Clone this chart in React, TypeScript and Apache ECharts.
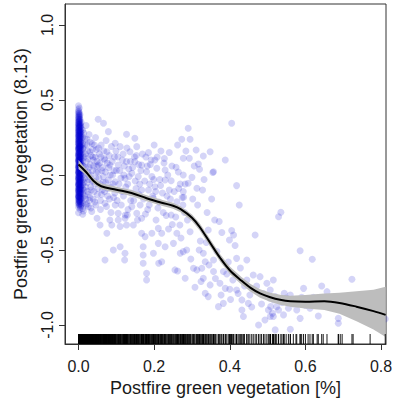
import { useEffect, useRef } from "react";
import * as echarts from "echarts";

const xTickValues = [0, 0.2, 0.4, 0.6, 0.8];
const yTickValues = [-1, -0.5, 0, 0.5, 1];
const xRange = [-0.0357, 0.813];
const yRange = [-1.127, 1.14];

const xTitle = "Postfire green vegetation [%]";
const yTitle = "Postfire green vegetation (8.13)";

// dense cluster at ~0 % green vegetation: column x positions and y values
const coreX = [0, 0.002, 0.004, 0.007, 0.011, 0.001, 0.003, 0.005, 0.0, 0.0005, 0.0025, 0.006, 0.0015];
const coreY0 = [0.462, 0.436, 0.418, 0.392, 0.371, 0.352, 0.327, 0.309, 0.284, 0.268, 0.241, 0.226, 0.203, 0.181, 0.166, 0.142, 0.127, 0.101, 0.088, 0.061, 0.047, 0.022, 0.008, -0.018, -0.033, -0.058, -0.072, -0.097, -0.113, -0.138, -0.152, -0.183, -0.214, -0.252];
const coreY1 = [0.447, 0.413, 0.394, 0.362, 0.338, 0.317, 0.283, 0.262, 0.236, 0.203, 0.182, 0.153, 0.122, 0.098, 0.073, 0.042, 0.018, -0.006, -0.041, -0.062, -0.087, -0.118, -0.142, -0.171, -0.203];
const coreY2 = [0.402, 0.372, 0.334, 0.302, 0.273, 0.243, 0.212, 0.188, 0.162, 0.133, 0.108, 0.082, 0.053, 0.028, 0.002, -0.027, -0.051, -0.082, -0.104, -0.132, -0.163, -0.191, -0.228];
const coreY3 = [0.352, 0.309, 0.272, 0.238, 0.202, 0.168, 0.141, 0.108, 0.072, 0.043, 0.013, -0.022, -0.047, -0.073, -0.102, -0.127, -0.162, -0.198];
const coreY4 = [0.298, 0.252, 0.208, 0.174, 0.132, 0.093, 0.062, 0.033, -0.002, -0.031, -0.064, -0.092, -0.121, -0.152, -0.187, -0.223, -0.262];
const coreY5 = [0.425, 0.401, 0.377, 0.355, 0.331, 0.314, 0.291, 0.272, 0.249, 0.231, 0.209, 0.192, 0.171, 0.148, 0.133, 0.112, 0.093, 0.071, 0.053, 0.031, 0.012, -0.011, -0.029, -0.049, -0.068, -0.091, -0.108, -0.127, -0.148, -0.171, -0.196];
const coreY6 = [0.387, 0.358, 0.326, 0.297, 0.279, 0.252, 0.228, 0.197, 0.176, 0.151, 0.119, 0.091, 0.067, 0.039, 0.012, -0.013, -0.038, -0.066, -0.093, -0.116, -0.147, -0.178];
const coreY7 = [0.342, 0.318, 0.287, 0.258, 0.221, 0.196, 0.171, 0.139, 0.117, 0.087, 0.058, 0.037, 0.008, -0.016, -0.041, -0.069, -0.094, -0.121, -0.154, -0.186, -0.216];
const coreY8 = [0.341, 0.296, 0.256, 0.214, 0.173, 0.132, 0.094, 0.052, 0.016, -0.024, -0.063, -0.104, -0.143];
const coreY9 = [0.408, 0.384, 0.362, 0.338, 0.319, 0.297, 0.276, 0.255, 0.233, 0.214, 0.193, 0.177, 0.156, 0.137, 0.118, 0.098, 0.079, 0.057, 0.039, 0.018, -0.004, -0.022, -0.044, -0.063, -0.084, -0.103, -0.124, -0.143, -0.166, -0.189];
const coreY10 = [0.371, 0.346, 0.321, 0.293, 0.266, 0.244, 0.218, 0.193, 0.168, 0.144, 0.121, 0.096, 0.072, 0.048, 0.024, -0.001, -0.026, -0.052, -0.077, -0.101, -0.124, -0.151, -0.177];
const coreY11 = [0.326, 0.289, 0.256, 0.223, 0.187, 0.156, 0.124, 0.096, 0.064, 0.031, 0.004, -0.029, -0.058, -0.086, -0.113, -0.145, -0.177, -0.207];
const coreY12 = [0.306, 0.263, 0.221, 0.183, 0.146, 0.103, 0.066, 0.027, -0.012, -0.053, -0.09, -0.131, -0.162];

const nearCorePoints = [
  [0.014, 0.28], [0.016, 0.2], [0.015, 0.12], [0.018, 0.05], [0.017, -0.02], [0.015, -0.1], [0.019, -0.16], [0.013, -0.24],
  [0.02, 0.33], [0.022, 0.24], [0.024, 0.16], [0.021, 0.09], [0.025, 0.02], [0.023, -0.05], [0.026, -0.13], [0.022, -0.19],
  [0.026, -0.211], [0.028, 0.27], [0.03, 0.155], [0.031, 0.07], [0.029, -0.01], [0.032, -0.08], [0.03, -0.15], [0.033, -0.22],
  [0.035, -0.244], [0.036, 0.21], [0.038, 0.12], [0.039, 0.1], [0.037, 0.03], [0.04, -0.04], [0.041, -0.11], [0.043, -0.18],
  [0.045, 0.25], [0.047, 0.17], [0.048, 0.06], [0.046, -0.02], [0.049, -0.289], [0.05, -0.13], [0.052, 0.371], [0.052, 0.067],
  [0.052, 0.022], [0.055, 0.14], [0.057, -0.06], [0.057, -0.333], [0.058, -0.17], [0.06, 0.2], [0.062, 0.03], [0.063, -0.1],
  [0.066, 0.345], [0.066, -0.011], [0.068, 0.11], [0.07, 0.1], [0.07, -0.189], [0.07, -0.567], [0.072, -0.05], [0.075, 0.155],
  [0.075, -0.389], [0.077, -0.14], [0.079, 0.289], [0.079, -0.033], [0.08, 0.05], [0.083, 0.067], [0.083, -0.3], [0.085, -0.08],
  [0.087, 0.19], [0.088, -0.333], [0.09, 0.0], [0.092, -0.5], [0.093, -0.15], [0.095, 0.12], [0.097, 0.211], [0.097, -0.045],
  [0.097, -0.2], [0.1, 0.03],
];
const nearCoreExtra = [
  [0.012, 0.18], [0.013, 0.06], [0.014, -0.05], [0.016, -0.14], [0.017, 0.24], [0.018, 0.14], [0.019, -0.08], [0.02, -0.2],
  [0.021, 0.01], [0.023, 0.2], [0.024, -0.11], [0.025, 0.11], [0.027, -0.03], [0.028, 0.05], [0.029, -0.17], [0.031, 0.22],
  [0.032, 0.0], [0.033, 0.13], [0.034, -0.1], [0.036, -0.04], [0.037, 0.17], [0.039, -0.16], [0.04, 0.06], [0.042, 0.2],
  [0.043, -0.06], [0.044, 0.12], [0.046, -0.2], [0.047, 0.02], [0.049, 0.09], [0.051, -0.09], [0.053, 0.18], [0.054, -0.02],
  [0.056, 0.08], [0.058, -0.23], [0.059, 0.12], [0.061, -0.13], [0.064, 0.05], [0.065, -0.05], [0.067, 0.16], [0.069, -0.11],
  [0.071, 0.02], [0.073, 0.23], [0.074, -0.21], [0.076, 0.08], [0.078, -0.09], [0.081, 0.13], [0.082, -0.16], [0.084, 0.0],
  [0.086, -0.25], [0.089, 0.09], [0.091, -0.06], [0.094, 0.03], [0.096, -0.12], [0.099, 0.16],
];

const midPoints = [
  [0.105, 0.067], [0.105, -0.3], [0.105, -0.256], [0.11, 0.189], [0.11, -0.344], [0.11, -0.478], [0.112, -0.02], [0.115, -0.11],
  [0.118, 0.14], [0.12, 0.0], [0.123, -0.022], [0.123, -0.289], [0.123, -0.522], [0.124, -0.267], [0.122, -0.567], [0.127, 0.271],
  [0.127, 0.089], [0.127, -0.333], [0.129, -0.267], [0.13, -0.06], [0.133, 0.04], [0.136, 0.155], [0.138, -0.17], [0.141, 0.011],
  [0.141, -0.211], [0.145, -0.333], [0.148, 0.12], [0.149, 0.245], [0.149, 0.089], [0.152, -0.09], [0.154, 0.189], [0.154, -0.256],
  [0.158, -0.011], [0.16, -0.13], [0.163, -0.2], [0.165, 0.03], [0.167, 0.067], [0.167, -0.1], [0.167, -0.289], [0.167, -0.389],
  [0.171, -0.478], [0.171, -0.533], [0.171, -0.589], [0.175, -0.04], [0.176, -0.411], [0.178, 0.12], [0.18, 0.022], [0.18, -0.656],
  [0.18, -0.7], [0.183, -0.23], [0.185, 0.149], [0.185, -0.1], [0.188, -0.06], [0.19, 0.07], [0.194, -0.011], [0.194, -0.389],
  [0.196, -0.14], [0.198, -0.156], [0.198, -0.522], [0.2, 0.2], [0.202, 0.1], [0.202, -0.078], [0.205, -0.3], [0.207, 0.045],
  [0.21, -0.22], [0.211, -0.356], [0.211, -0.456], [0.212, -0.589], [0.215, -0.03], [0.218, 0.16], [0.22, -0.389], [0.22, -0.578],
  [0.222, -0.12], [0.226, 0.08], [0.229, 0.033], [0.229, -0.033], [0.229, -0.478], [0.232, -0.27], [0.236, 0.0], [0.24, 0.15],
  [0.24, -0.1], [0.243, -0.16], [0.245, -0.038], [0.245, -0.267], [0.248, -0.33], [0.251, -0.456],
];
const midExtra = [
  [0.102, -0.17], [0.104, 0.12], [0.107, -0.06], [0.109, 0.03], [0.113, -0.2], [0.116, 0.1], [0.119, -0.14], [0.121, 0.06],
  [0.125, -0.08], [0.128, 0.18], [0.131, -0.23], [0.134, -0.01], [0.137, 0.09], [0.139, -0.12], [0.143, 0.05], [0.146, -0.17],
  [0.15, -0.04], [0.153, 0.13], [0.156, -0.3], [0.159, 0.07], [0.162, -0.06], [0.169, 0.14], [0.172, -0.16], [0.177, -0.26],
  [0.182, 0.06], [0.187, -0.2], [0.192, 0.1], [0.199, -0.03], [0.204, -0.11], [0.208, 0.12], [0.213, -0.18], [0.217, -0.07],
  [0.224, -0.25], [0.227, 0.11], [0.234, -0.14], [0.238, -0.36], [0.247, 0.06],
];

const outerPoints = [
  [0.255, -0.633], [0.258, 0.051], [0.26, -0.178], [0.26, -0.389], [0.262, -0.64], [0.262, 0.2], [0.265, -0.09], [0.268, -0.333],
  [0.269, -0.06], [0.269, -0.522], [0.273, 0.238], [0.276, -0.2], [0.277, 0.111], [0.277, 0.0], [0.277, -0.111], [0.278, -0.149],
  [0.277, -0.511], [0.28, -0.25], [0.282, -0.06], [0.282, -0.689], [0.286, -0.5], [0.29, -0.055], [0.29, 0.311], [0.293, 0.111],
  [0.295, 0.238], [0.295, -0.378], [0.3, -0.016], [0.302, -0.16], [0.304, -0.622], [0.308, -0.749], [0.311, 0.167], [0.313, -0.089],
  [0.313, -0.633], [0.317, 0.073], [0.32, 0.038], [0.322, -0.44], [0.326, -0.622], [0.328, -0.1], [0.33, 0.127], [0.33, -0.522],
  [0.33, -0.689], [0.335, -0.578], [0.335, -0.789], [0.34, -0.25], [0.343, -0.367], [0.343, -0.811], [0.348, 0.155], [0.348, -0.733],
  [0.355, 0.016], [0.357, 0.022], [0.357, -0.567], [0.357, -0.644], [0.36, -0.3], [0.37, -0.878], [0.374, -0.722], [0.379, -0.384],
  [0.383, -0.644], [0.383, -0.856], [0.388, 0.1], [0.388, -0.756], [0.399, -0.433], [0.4, -0.762], [0.405, 0.345], [0.405, -0.371],
  [0.41, -0.4], [0.418, -0.071], [0.418, -0.556], [0.418, -0.767], [0.425, -0.2], [0.432, -0.833], [0.432, -0.9], [0.436, -0.944],
  [0.445, -0.567], [0.445, -0.7], [0.449, -0.856],
];
const outerExtra = [
  [0.253, -0.11], [0.257, -0.28], [0.264, 0.02], [0.271, -0.42], [0.274, -0.15], [0.284, 0.16], [0.288, -0.3], [0.297, -0.56],
  [0.306, 0.06], [0.315, -0.2], [0.319, -0.5], [0.324, -0.71], [0.332, -0.03], [0.338, -0.45], [0.345, -0.6], [0.352, -0.16],
  [0.362, -0.69], [0.366, -0.51], [0.372, -0.31], [0.377, -0.8], [0.392, -0.66], [0.396, -0.58], [0.402, -0.83], [0.408, -0.7],
  [0.414, -0.47], [0.422, -0.79], [0.428, -0.62], [0.439, -0.74], [0.453, -0.8], [0.458, -0.88], [0.471, -0.74], [0.484, -0.86],
  [0.489, -0.79], [0.502, -0.9], [0.538, -0.85], [0.549, -0.82],
];

const tailPoints = [
  [0.462, -0.667], [0.467, -0.4], [0.476, -1.0], [0.48, -0.678], [0.493, -0.967], [0.498, -0.722], [0.507, -0.767], [0.507, -0.944],
  [0.506, -0.822], [0.508, -0.878], [0.513, -0.922], [0.515, -0.7], [0.516, -0.833], [0.515, -0.944], [0.52, -0.811], [0.52, -1.033],
  [0.524, -0.878], [0.529, -0.278], [0.529, -0.9], [0.535, -0.249], [0.542, -0.933], [0.544, -0.789], [0.555, -0.889], [0.56, -0.8],
  [0.56, -1.029], [0.568, -0.86], [0.575, -0.829], [0.577, -0.9], [0.586, -0.505], [0.586, -0.956], [0.59, -0.816], [0.595, -0.756],
  [0.6, -0.87], [0.607, -0.84], [0.612, -0.889], [0.618, -0.562], [0.621, -0.816], [0.631, -0.86], [0.634, -0.94], [0.643, -0.74],
  [0.647, -0.87], [0.657, -0.778], [0.687, -0.956], [0.687, -0.989], [0.692, -0.86], [0.697, -0.88], [0.723, -0.695], [0.726, -0.9],
  [0.771, -0.94], [0.811, -0.96],
];

// GAM smooth and its confidence band
const smoothX = [0, 0.02, 0.04, 0.06, 0.1, 0.14, 0.18, 0.22, 0.25, 0.27, 0.3, 0.32, 0.35, 0.375, 0.4, 0.43, 0.455, 0.48, 0.507, 0.533, 0.56, 0.6, 0.65, 0.69, 0.735, 0.78, 0.812];
const smoothY = [0.07, 0.02, -0.04, -0.075, -0.098, -0.12, -0.155, -0.185, -0.205, -0.228, -0.285, -0.345, -0.46, -0.555, -0.635, -0.703, -0.753, -0.79, -0.815, -0.832, -0.842, -0.845, -0.842, -0.853, -0.878, -0.908, -0.933];
const bandUpper = [0.1, 0.042, -0.02, -0.055, -0.078, -0.1, -0.135, -0.165, -0.185, -0.208, -0.263, -0.321, -0.435, -0.53, -0.61, -0.678, -0.727, -0.762, -0.785, -0.799, -0.805, -0.8, -0.79, -0.785, -0.775, -0.765, -0.745];
const bandLower = [0.04, -0.002, -0.06, -0.095, -0.118, -0.14, -0.175, -0.205, -0.225, -0.248, -0.307, -0.369, -0.485, -0.58, -0.66, -0.728, -0.779, -0.818, -0.845, -0.865, -0.879, -0.89, -0.9, -0.925, -0.975, -1.03, -1.08];

export default function App() {
  const ref = useRef<HTMLDivElement>(null);

  useEffect(() => {
    if (!ref.current) return;
    const chart = echarts.init(ref.current, undefined, { renderer: "svg" });

    const coreColumns = [coreY0, coreY1, coreY2, coreY3, coreY4, coreY5, coreY6, coreY7, coreY8, coreY9, coreY10, coreY11, coreY12];
    const corePoints: number[][] = [];
    coreColumns.forEach((col, i) => {
      col.forEach((y) => corePoints.push([coreX[i], y]));
    });
    const allPoints = [
      ...corePoints, ...nearCorePoints, ...nearCoreExtra, ...midPoints, ...midExtra,
      ...outerPoints, ...outerExtra, ...tailPoints,
    ];
    const rugData = allPoints.map((p) => [p[0]]);
    const lineData = smoothX.map((x, i) => [x, smoothY[i]]);

    const font = "'Liberation Sans', Arial, sans-serif";
    const ink = "#1a1a1a";

    chart.setOption({
      animation: false,
      backgroundColor: "#ffffff",
      grid: { left: 65, right: 11, top: 4, bottom: 60, show: true, borderColor: "#333", borderWidth: 1, containLabel: false, outerBoundsMode: "none" },
      xAxis: {
        type: "value",
        min: xRange[0],
        max: xRange[1],
        name: xTitle,
        nameLocation: "middle",
        nameGap: 30,
        nameTextStyle: { fontFamily: font, fontSize: 18, color: ink },
        axisLine: { show: true, onZero: false, lineStyle: { color: "#333", width: 1 } },
        axisTick: { show: true, inside: false, length: 6, customValues: xTickValues, lineStyle: { color: "#333" } },
        axisLabel: { customValues: xTickValues, margin: 14, fontFamily: font, fontSize: 16, color: ink, formatter: (v: number) => v.toFixed(1) },
        splitLine: { show: false },
      },
      yAxis: {
        type: "value",
        min: yRange[0],
        max: yRange[1],
        name: yTitle,
        nameLocation: "middle",
        nameGap: 35,
        nameTextStyle: { fontFamily: font, fontSize: 18, color: ink },
        axisLine: { show: true, onZero: false, lineStyle: { color: "#333", width: 1 } },
        axisTick: { show: true, inside: false, length: 6, customValues: yTickValues, lineStyle: { color: "#333" } },
        axisLabel: { customValues: yTickValues, rotate: 90, margin: 10, fontFamily: font, fontSize: 16, color: ink, formatter: (v: number) => v.toFixed(1) },
        splitLine: { show: false },
      },
      series: [
        {
          type: "scatter",
          data: allPoints,
          symbol: "circle",
          symbolSize: 7,
          large: false,
          progressive: 0,
          itemStyle: { color: "rgb(0,0,205)", opacity: 0.17, borderWidth: 0 },
          z: 1,
          silent: true,
        },
        {
          type: "custom",
          data: [[0, 0]],
          z: 2,
          silent: true,
          renderItem: (_params: any, api: any) => {
            const pts: number[][] = [];
            smoothX.forEach((x, i) => pts.push(api.coord([x, bandUpper[i]])));
            for (let i = smoothX.length - 1; i >= 0; i--) pts.push(api.coord([smoothX[i], bandLower[i]]));
            return { type: "polygon", shape: { points: pts, smooth: 0 }, style: { fill: "#bdbdbd", stroke: "none" } };
          },
        },
        {
          type: "line",
          data: lineData,
          smooth: 0.35,
          showSymbol: false,
          symbol: "none",
          lineStyle: { color: "#000", width: 2 },
          z: 3,
          silent: true,
        },
        {
          type: "custom",
          data: rugData,
          z: 4,
          silent: true,
          renderItem: (_params: any, api: any) => {
            const p = api.coord([api.value(0), yRange[0]]);
            return { type: "line", shape: { x1: p[0], y1: p[1], x2: p[0], y2: p[1] - 10 }, style: { stroke: "#000", lineWidth: 0.9 } };
          },
        },
      ],
    });

    return () => chart.dispose();
  }, []);

  return <div ref={ref} style={{ position: "fixed", left: 0, top: 0, width: 397, height: 404 }} />;
}
